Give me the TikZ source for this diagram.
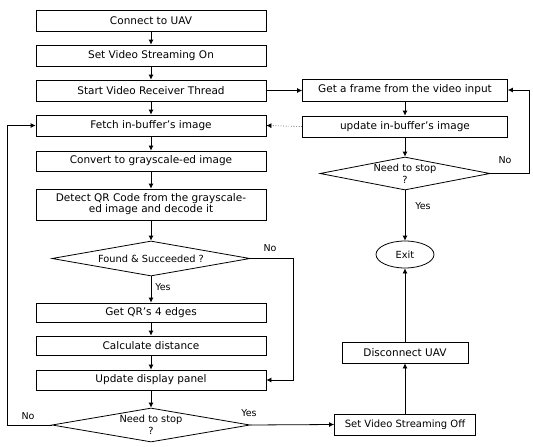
\documentclass[tikz,border=0pt]{standalone}
\usepackage{fontspec}
\setmainfont{DejaVu Sans}
\usetikzlibrary{shapes.geometric,arrows.meta}
\begin{document}
\begin{tikzpicture}[x=1pt,y=-1pt,
  box/.style={draw, line width=0.8pt, minimum width=230pt, minimum height=21pt, inner sep=1pt, font=\fontsize{10.5}{10.5}\selectfont, align=center},
  rbox/.style={box, minimum width=205pt},
  dia/.style={draw, line width=0.8pt, diamond, inner sep=0pt, font=\fontsize{9.8}{12}\selectfont, align=center},
  arr/.style={line width=0.8pt, -{Latex[length=5pt,width=5pt]}},
  lab/.style={font=\fontsize{9.5}{9.5}\selectfont, inner sep=1pt}]
\useasboundingbox (0,0) rectangle (533,447);
% left column
\node[box] (c1) at (151,20.5) {Connect to UAV};
\node[box] (c2) at (151,55.5) {Set Video Streaming On};
\node[box] (c3) at (151,90.5) {Start Video Receiver Thread};
\node[box] (c4) at (151,125.5) {Fetch in-buffer’s image};
\node[box, minimum height=20pt] (c5) at (151,161) {Convert to grayscale-ed image};
\node[box, minimum height=31pt, font=\fontsize{10.5}{9.5}\selectfont] (c6) at (151,204.5) {Detect QR Code from the grayscale-\\ed image and decode it};
\node[dia, minimum width=198pt, minimum height=35pt, aspect=5.6] (d1) at (151,258.5) {Found \& Succeeded ?};
\node[box, minimum height=19pt] (c7) at (151,312.5) {Get QR’s 4 edges};
\node[box, minimum height=19pt] (c8) at (151,345.5) {Calculate distance};
\node[box, minimum height=20pt] (c9) at (151,380) {Update display panel};
\node[dia, minimum width=198pt, minimum height=34pt, aspect=5.8] (d2) at (151,425) {Need to stop\\?};
% right column
\node[rbox, minimum height=22pt] (r1) at (405,90) {Get a frame from the video input};
\node[rbox] (r2) at (405,126.5) {update in-buffer’s image};
\node[dia, minimum width=170pt, minimum height=33pt, aspect=5.2] (d3) at (405,173.5) {Need to stop\\?};
\node[draw, line width=0.8pt, ellipse, minimum width=58pt, minimum height=27pt, inner sep=0pt, font=\fontsize{9.8}{9.8}\selectfont] (ex) at (405,254.5) {Exit};
\node[box, minimum width=126pt] (dc) at (405,352.5) {Disconnect UAV};
\node[box, minimum width=141pt, font=\fontsize{10}{10}\selectfont] (so) at (405,424.5) {Set Video Streaming Off};
% coordinates
\coordinate (nl) at (7,425);
\coordinate (nl2) at (7,125.5);
\coordinate (fn) at (293,258.5);
\coordinate (fn2) at (293,380);
\coordinate (rn) at (529,173.5);
\coordinate (rn2) at (529,90);
% arrows
\draw[arr] (c1) -- (c2);
\draw[arr] (c2) -- (c3);
\draw[arr] (c3) -- (c4);
\draw[arr] (c4) -- (c5);
\draw[arr] (c5) -- (c6);
\draw[arr] (c6) -- (d1);
\draw[arr] (d1) -- (c7);
\draw[arr] (c7) -- (c8);
\draw[arr] (c8) -- (c9);
\draw[arr] (c9) -- (d2);
\draw[arr] (d2.west) -- (nl) -- (nl2) -- (c4.west);
\draw[arr] (d1.east) -- (fn) -- (fn2) -- (c9.east);
\draw[arr] (d2.east) -- (so.west);
\draw[arr] (c3.east) -- (r1.west |- c3.east);
\draw[arr] (r1) -- (r2);
\draw[arr] (r2) -- (d3);
\draw[line width=0.6pt, dotted, -{Latex[length=5pt,width=5pt]}] (r2.west) -- (c4.east);
\draw[arr] (d3.east) -- (rn) -- (rn2) -- (r1.east);
\draw[arr] (d3) -- (ex);
\draw[arr] (so) -- (dc);
\draw[arr] (dc) -- (ex);
% labels
\node[lab] (l1) at (270,248) {No};
\node[lab] (l2) at (163,287) {Yes};
\node[lab] (l3) at (28,416) {No};
\node[lab] (l4) at (249,413) {Yes};
\node[lab] (l5) at (505,160) {No};
\node[lab] (l6) at (423,206) {Yes};
\end{tikzpicture}
\end{document}
